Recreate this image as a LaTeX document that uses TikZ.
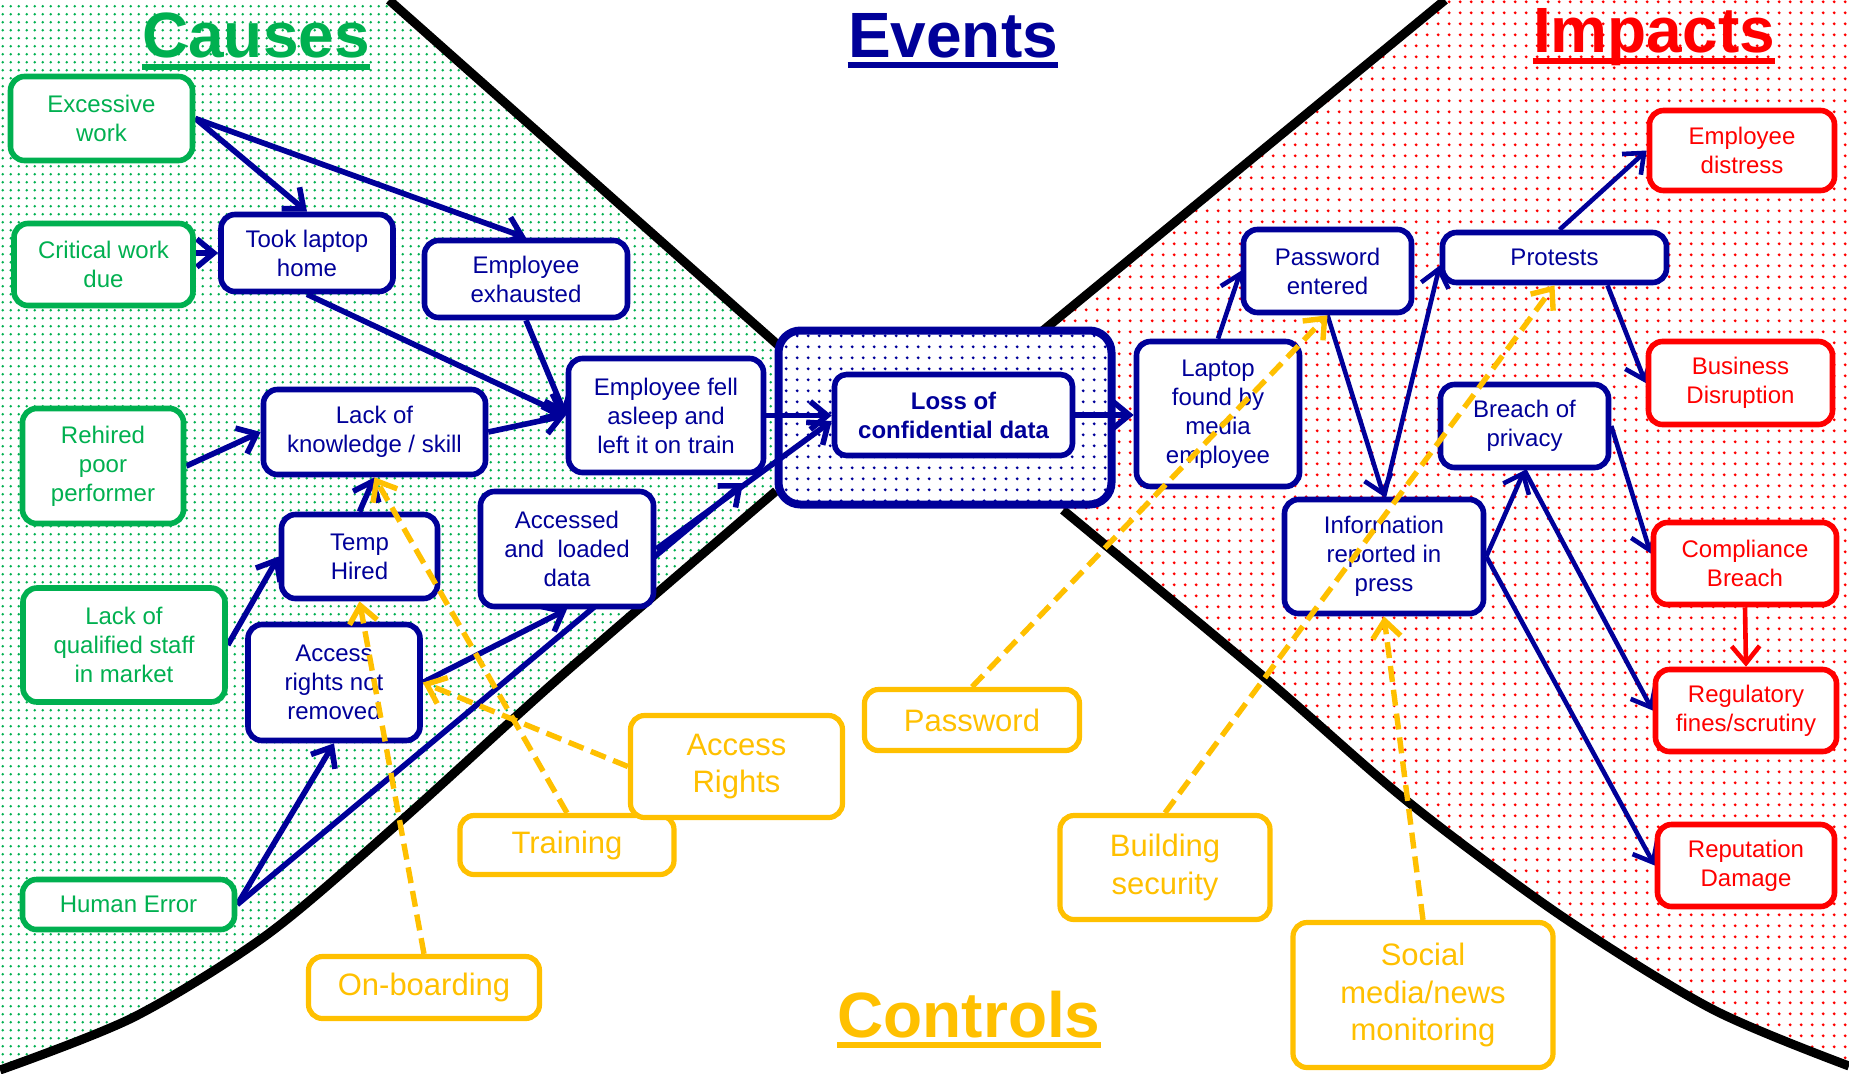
\documentclass[tikz,border=0pt]{standalone}
\usepackage{fontspec}
\setmainfont{Liberation Sans}
\usetikzlibrary{arrows.meta,patterns,calc}
\definecolor{navyc}{HTML}{000099}
\definecolor{greenc}{HTML}{00B050}
\definecolor{redc}{HTML}{FF0000}
\definecolor{goldc}{HTML}{FFC000}
\pgfdeclarepatternformonly{gdots}{\pgfpointorigin}{\pgfqpoint{4.1pt}{4.1pt}}{\pgfqpoint{4.1pt}{4.1pt}}{\pgfpathcircle{\pgfqpoint{2.05pt}{2.05pt}}{0.7pt}\pgfusepath{fill}}
\pgfdeclarepatternformonly{rdots}{\pgfpointorigin}{\pgfqpoint{5.35pt}{5.35pt}}{\pgfqpoint{5.35pt}{5.35pt}}{\pgfpathcircle{\pgfqpoint{2.67pt}{2.67pt}}{0.8pt}\pgfusepath{fill}}
\pgfdeclarelayer{back}
\pgfdeclarelayer{conn}
\pgfdeclarelayer{front}
\pgfsetlayers{back,conn,main,front}
\tikzset{
  box/.style={draw, rounded corners=7pt, fill=white, line width=2.8pt, align=center, inner sep=1pt, font=\fontsize{12}{14.5}\selectfont},
  cause/.style={box, draw=greenc, text=greenc},
  evbox/.style={box, draw=navyc, text=navyc},
  imp/.style={box, draw=redc, text=redc},
  ctrl/.style={box, draw=goldc, text=goldc, line width=2.6pt, font=\fontsize{15.5}{18.9}\selectfont},
  conn/.style={draw=navyc, line width=2.8pt, -{Straight Barb[length=8.5pt,width=14pt]}},
  connr/.style={conn, line width=2.3pt},
  cdash/.style={draw=goldc, line width=2.7pt, dash pattern=on 8pt off 4pt, -{Straight Barb[length=8.5pt,width=14pt]}},
  title/.style={font=\fontsize{32}{38}\selectfont\bfseries, inner sep=0pt, anchor=base},
  bnd/.style={line width=4.5pt, black}
}
\begin{document}
\begin{tikzpicture}[x=0.5pt,y=-0.5pt]
\useasboundingbox (0,0) rectangle (1849,1073);
\begin{pgfonlayer}{back}
\fill[white] (0,0) rectangle (1849,1073);
\path[pattern=gdots, pattern color=greenc] (0,0) -- (389,0) -- (778,345) -- plot[smooth] coordinates {(776,491) (560,677) (402,820) (268,934) (134,1017) (0,1070)} -- cycle;
\path[pattern=rdots, pattern color=redc] (1445,0) -- (1849,0) -- plot[smooth] coordinates {(1849,1066) (1712,1009) (1560,915) (1407,801) (1264,677) (1063,510)} -- (1040,333) -- cycle;
\draw[bnd] (389,0) -- (778,345);
\draw[bnd] plot[smooth] coordinates {(776,491) (560,677) (402,820) (268,934) (134,1017) (0,1070)};
\draw[bnd] (1445,0) -- (1040,333);
\draw[bnd] plot[smooth] coordinates {(1063,510) (1264,677) (1407,801) (1560,915) (1712,1009) (1849,1066)};
\node[draw=navyc, line width=4pt, rounded corners=11pt, minimum width=166.5pt, minimum height=87pt, inner sep=0pt, preaction={fill=white}, pattern=rdots, pattern color=navyc] (evo) at (945,417.5) {};
\end{pgfonlayer}

% titles
\node[title, text=greenc] (tcauses) at (256,57) {Causes};
\draw[greenc, line width=2.6pt] ($(tcauses.base west)+(0,10)$) -- ($(tcauses.base east)+(0,10)$);
\node[title, text=navyc] (tevents) at (953,57) {Events};
\draw[navyc, line width=2.6pt] ($(tevents.base west)+(0,8)$) -- ($(tevents.base east)+(0,8)$);
\node[title, text=redc] (timpacts) at (1654,52) {Impacts};
\draw[redc, line width=2.6pt] ($(timpacts.base west)+(0,9)$) -- ($(timpacts.base east)+(0,9)$);
\node[title, text=goldc] (tcontrols) at (969,1037) {Controls};
\draw[goldc, line width=2.6pt] ($(tcontrols.base west)+(0,8)$) -- ($(tcontrols.base east)+(0,8)$);

% causes
\node[cause, minimum width=91pt, minimum height=42pt] (exc) at (101.5,118.5) {Excessive\\work};
\node[cause, minimum width=89.5pt, minimum height=41pt] (crit) at (103.5,264.5) {Critical work\\due};
\node[cause, minimum width=80.5pt, minimum height=57.5pt] (rh) at (103,466) {Rehired\\poor\\performer};
\node[cause, minimum width=101pt, minimum height=57pt] (lq) at (124,645) {Lack of\\qualified staff\\in market};
\node[cause, minimum width=106pt, minimum height=25pt] (he) at (128.5,904.5) {Human Error};

% left events
\node[evbox, minimum width=86pt, minimum height=38.5pt] (tl) at (307,253) {Took laptop\\home};
\node[evbox, minimum width=101.5pt, minimum height=38.5pt] (ee) at (526,279) {Employee\\exhausted};
\node[evbox, minimum width=111pt, minimum height=42.5pt] (lk) at (374.5,432) {Lack of\\knowledge / skill};
\node[evbox, minimum width=97.5pt, minimum height=57pt] (fa) at (666,415.5) {Employee fell\\asleep and\\left it on train};
\node[evbox, minimum width=78pt, minimum height=42pt] (th) at (359.5,556.5) {Temp\\Hired};
\node[evbox, minimum width=86.5pt, minimum height=57.5pt] (al) at (567,549) {Accessed\\and\ \ loaded\\data};
\node[evbox, minimum width=86pt, minimum height=58pt] (ar) at (334,682.5) {Access\\rights not\\removed};
\node[evbox, font=\fontsize{12}{14.5}\selectfont\bfseries, minimum width=119pt, minimum height=40.5pt, rounded corners=6pt] (loss) at (953.5,415) {Loss of\\confidential data};

% right events
\node[evbox, minimum width=81.5pt, minimum height=72.5pt] (lf) at (1218,414) {Laptop\\found by\\media\\employee};
\node[evbox, minimum width=84pt, minimum height=41.5pt] (pe) at (1327.5,271) {Password\\entered};
\node[evbox, minimum width=112pt, minimum height=25pt] (pr) at (1554.5,257.5) {Protests};
\node[evbox, minimum width=84pt, minimum height=41.5pt] (bp) at (1524.5,426) {Breach of\\privacy};
\node[evbox, minimum width=99.5pt, minimum height=57pt] (ir) at (1384,556.5) {Information\\reported in\\press};

% impacts
\node[imp, minimum width=92.5pt, minimum height=40pt] (ed) at (1742,150.5) {Employee\\distress};
\node[imp, minimum width=92pt, minimum height=41.5pt] (bd) at (1740.5,383) {Business\\Disruption};
\node[imp, minimum width=91.5pt, minimum height=41pt] (cb) at (1745,563.5) {Compliance\\Breach};
\node[imp, minimum width=90.5pt, minimum height=41pt] (rf) at (1746,710.5) {Regulatory\\fines/scrutiny};
\node[imp, minimum width=88.5pt, minimum height=41pt] (rd) at (1746,865.5) {Reputation\\Damage};

% controls
\node[ctrl, minimum width=107pt, minimum height=29.5pt] (trn) at (567,845) {Training};
\node[ctrl, minimum width=106pt, minimum height=51pt] (acr) at (736.5,766.5) {Access\\Rights};
\node[ctrl, minimum width=107.5pt, minimum height=30.5pt] (pw) at (972,720) {Password};
\node[ctrl, minimum width=105pt, minimum height=52pt] (bs) at (1165,867.5) {Building\\security};
\node[ctrl, minimum width=115.5pt, minimum height=31pt] (onb) at (424,987.5) {On-boarding};
\node[ctrl, minimum width=130pt, minimum height=72.5pt] (sm) at (1423,995) {Social\\media/news\\monitoring};

\coordinate (hetip) at (743,483);

\begin{pgfonlayer}{conn}
\draw[conn] (exc.east) -- (tl.north);
\draw[conn] (exc.east) -- (ee.north);
\draw[conn] (crit.east |- tl.west) -- (tl.west);
\draw[conn] (tl.south) -- (fa.west);
\draw[conn] (ee.south) -- (fa.west);
\draw[conn] (lk.east) -- (fa.west);
\draw[conn] (rh.east) -- (lk.west);
\draw[conn] (lq.east) -- (th.west);
\draw[conn] (th.north) -- (lk.south);
\draw[conn] (he.east) -- (ar.south);
\draw[conn] (he.east) -- (hetip);
\draw[conn] (ar.east) -- (al.south);
\draw[conn] (al.east) -- ($(loss.west)+(0,6)$);
\draw[conn] (fa.east) -- (fa.east -| loss.west);
\draw[conn] (loss.east) -- (loss.east -| lf.west);
\draw[connr] (lf.north) -- (pe.west);
\draw[connr] (pe.south) -- (ir.north);
\draw[connr] (ir.north) -- ($(pr.west)+(0,8)$);
\draw[connr] ($(pr.north)+(5,0)$) -- (ed.west);
\draw[connr] ($(pr.south)+(53,0)$) -- (bd.west);
\draw[connr] (ir.east) -- (bp.south);
\draw[connr] (bp.south) -- (rf.west);
\draw[connr] (bp.east) -- ($(cb.west)+(0,-10)$);
\draw[connr] (ir.east) -- (rd.west);
\draw[connr, draw=redc] (cb.south) -- (rf.north);
\end{pgfonlayer}

\begin{pgfonlayer}{front}
\draw[cdash] (acr.west) -- (ar.east);
\draw[cdash] (trn.north) -- (lk.south);
\draw[cdash] (onb.north) -- (th.south);
\draw[cdash] (pw.north) -- (pe.south);
\draw[cdash] (bs.north) -- (pr.south);
\draw[cdash] (sm.north) -- (ir.south);
\end{pgfonlayer}
\end{tikzpicture}
\end{document}
